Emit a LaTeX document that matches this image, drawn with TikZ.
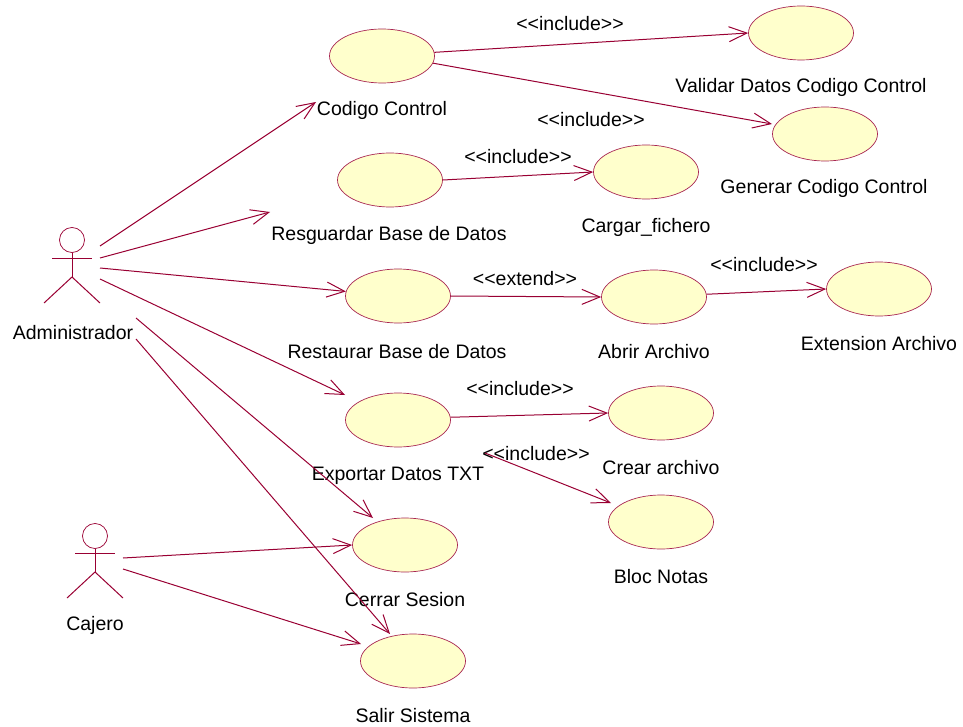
\documentclass[tikz,border=0pt]{standalone}
\usepackage{fontspec}
\setmainfont{Liberation Sans}[Ligatures=NoCommon]
\usetikzlibrary{arrows.meta,shapes.geometric}
\definecolor{rosered}{HTML}{990033}
\definecolor{rosefill}{HTML}{FFFFCC}
\newcommand{\stereo}[1]{<{}<#1>{}>}
\tikzset{
    usecase/.style={ellipse, draw=rosered!85, fill=rosefill, line width=0.7pt, inner sep=0pt, minimum width=105pt, minimum height=54pt},
    lbl/.style={inner sep=0pt, yshift=-0.8pt, text=black, font=\fontsize{19.5}{22}\selectfont},
    assoc/.style={draw=rosered, line width=1pt, -{Straight Barb[length=18pt, width=15pt, line width=1pt]}},
    stick/.style={draw=rosered, line width=1pt}
}
\begin{document}
\begin{tikzpicture}[x=1pt, y=-1pt]
    \useasboundingbox (0, 0) rectangle (963, 727);

    \foreach \name/\x/\y in {codigo/382/56, validar/801/33, generar/825/134, cargar/646/172,
        resguardar/390/180, restaurar/398/296, abrir/654/297, extension/879/289,
        exportar/398/420, crear/661/413, bloc/661/522, cerrar/405/545, salir/413/661} {
        \node[usecase] (\name) at (\x, \y) {};
    }

    \node[lbl] (codigoLbl) at (382, 110) {Codigo Control};
    \node[lbl] (validarLbl) at (801, 87) {Validar Datos Codigo Control};
    \node[lbl] (generarLbl) at (824, 188) {Generar Codigo Control};
    \node[lbl] (cargarLbl) at (646, 227) {Cargar\_fichero};
    \node[lbl] (resguardarLbl) at (389, 234.5) {Resguardar Base de Datos};
    \node[lbl] (restaurarLbl) at (397, 351) {Restaurar Base de Datos};
    \node[lbl] (abrirLbl) at (654, 351) {Abrir Archivo};
    \node[lbl] (extensionLbl) at (879, 343) {Extension Archivo};
    \node[lbl] (exportarLbl) at (398, 475) {Exportar Datos TXT};
    \node[lbl] (crearLbl) at (661, 467) {Crear archivo};
    \node[lbl] (blocLbl) at (661, 576) {Bloc Notas};
    \node[lbl] (cerrarLbl) at (405, 599) {Cerrar Sesion};
    \node[lbl] (salirLbl) at (413, 715) {Salir Sistema};
    \node[lbl] (adminLbl) at (73, 332) {Administrador};
    \node[lbl] (cajeroLbl) at (95, 625) {Cajero};

    \node[lbl] (inclA) at (570, 23) {\stereo{include}};
    \node[lbl] (inclB) at (591, 119) {\stereo{include}};
    \node[lbl] (inclC) at (518, 156) {\stereo{include}};
    \node[lbl] (extA) at (525, 278) {\stereo{extend}};
    \node[lbl] (inclD) at (764, 264) {\stereo{include}};
    \node[lbl] (inclE) at (520, 388) {\stereo{include}};
    \node[lbl] (inclF) at (536, 453) {\stereo{include}};

    \node[circle, stick, inner sep=0pt, minimum size=25pt, line width=0.7pt] (adminHead) at (72, 240) {};
    \draw[stick] (adminHead.south) -- (72, 277);
    \draw[stick] (52, 259) -- (92, 259);
    \draw[stick] (44, 303) -- (72, 277) -- (100, 303);

    \node[circle, stick, inner sep=0pt, minimum size=25pt, line width=0.7pt] (cajeroHead) at (95, 536) {};
    \draw[stick] (cajeroHead.south) -- (95, 572);
    \draw[stick] (75, 553) -- (115, 553);
    \draw[stick] (67, 598) -- (95, 572) -- (123, 598);

    \coordinate (adminA) at (100, 246);
    \coordinate (adminB) at (100, 258);
    \coordinate (adminC) at (100, 268);
    \coordinate (adminD) at (100, 279);
    \coordinate (adminE) at (136, 318);
    \coordinate (adminF) at (136, 339);
    \coordinate (cajeroA) at (123, 558);
    \coordinate (cajeroB) at (123, 569);
    \coordinate (codigoEnd) at (316, 102);
    \coordinate (resguardarEnd) at (270, 212);
    \coordinate (exportarEnd) at (345, 395);
    \coordinate (cerrarEnd) at (373, 518);
    \coordinate (salirEnd) at (390, 634);
    \coordinate (salirEndB) at (361, 644);
    \coordinate (blocStart) at (485, 453);
    \coordinate (blocEnd) at (611, 503);
    \coordinate (generarEnd) at (772, 124);

    \draw[assoc] (adminA) -- (codigoEnd);
    \draw[assoc] (adminB) -- (resguardarEnd);
    \draw[assoc] (adminC) -- (restaurar.175);
    \draw[assoc] (adminD) -- (exportarEnd);
    \draw[assoc] (adminE) -- (cerrarEnd);
    \draw[assoc] (adminF) -- (salirEnd);
    \draw[assoc] (cajeroA) -- (cerrar.west);
    \draw[assoc] (cajeroB) -- (salirEndB);

    \draw[assoc] (codigo.4) -- (validar.west);
    \draw[assoc] (codigo.-8) -- (generarEnd);
    \draw[assoc] (resguardar.east) -- (cargar.west);
    \draw[assoc] (restaurar.east) -- (abrir.west);
    \draw[assoc] (abrir.3) -- (extension.west);
    \draw[assoc] (exportar.3) -- (crear.west);
    \draw[assoc] (blocStart) -- (blocEnd);
\end{tikzpicture}
\end{document}
